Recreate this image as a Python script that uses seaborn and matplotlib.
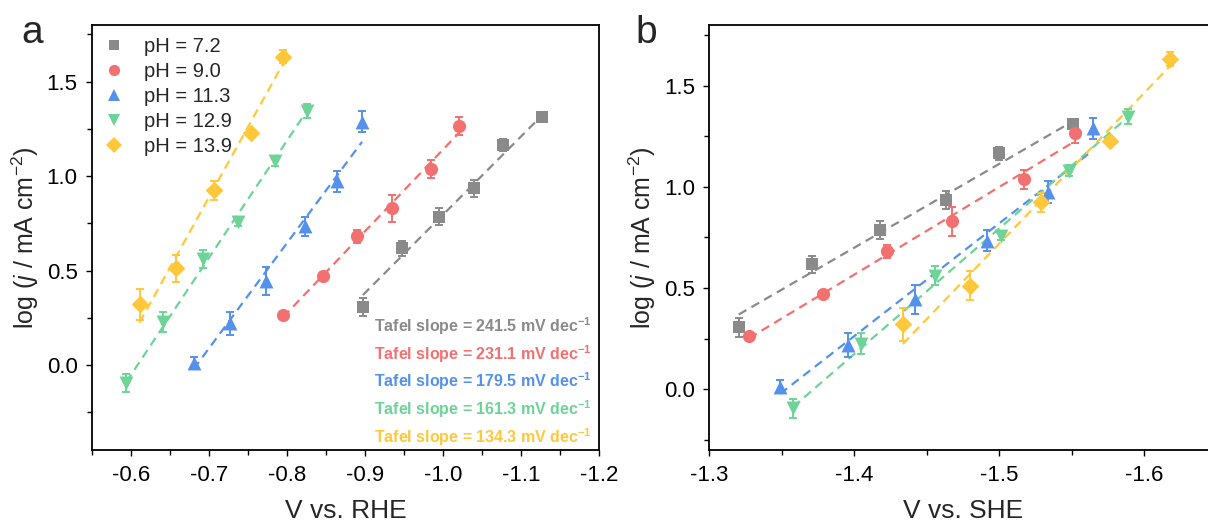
import numpy as np
import pandas as pd
import matplotlib
matplotlib.use("Agg")
import matplotlib.pyplot as plt
from matplotlib.ticker import AutoMinorLocator, FormatStrFormatter, MultipleLocator
from matplotlib.lines import Line2D
import seaborn as sns

# ---- data -------------------------------------------------------------
labels = ["pH = 7.2", "pH = 9.0", "pH = 11.3", "pH = 12.9", "pH = 13.9"]
colors = ["#8A8A8A", "#F2706F", "#5591EC", "#6ED396", "#FFC73A"]
markers = ["s", "o", "^", "v", "D"]
marker_sizes = [8.5, 9.5, 10, 10, 9]
tafel_slopes = [241.5, 231.1, 179.5, 161.3, 134.3]  # mV dec^-1

# potential vs. RHE (V)
v_rhe_72 = [-0.897, -0.947, -0.9945, -1.040, -1.0765, -1.127]
v_rhe_90 = [-0.7945, -0.8453, -0.8897, -0.9346, -0.9837, -1.0196]
v_rhe_113 = [-0.6799, -0.7269, -0.7731, -0.8227, -0.8637, -0.8958]
v_rhe_129 = [-0.5936, -0.641, -0.6923, -0.7368, -0.7846, -0.8253]
v_rhe_139 = [-0.6106, -0.6568, -0.706, -0.7538, -0.7945]

# potential vs. SHE (V)
v_she_72 = [-1.3203, -1.3707, -1.418, -1.4634, -1.5001, -1.5508]
v_she_90 = [-1.3274, -1.3783, -1.4226, -1.4677, -1.517, -1.5524]
v_she_113 = [-1.3488, -1.3957, -1.4422, -1.4917, -1.5337, -1.5646]
v_she_129 = [-1.3578, -1.4047, -1.4558, -1.5011, -1.5484, -1.5888]
v_she_139 = [-1.4335, -1.4799, -1.5289, -1.5767, -1.6179]

# log current density (log mA cm^-2)
logj_72 = [0.306, 0.618, 0.786, 0.935, 1.165, 1.312]
logj_90 = [0.265, 0.470, 0.681, 0.830, 1.037, 1.265]
logj_113 = [0.013, 0.220, 0.445, 0.735, 0.973, 1.289]
logj_129 = [-0.094, 0.226, 0.562, 0.756, 1.081, 1.346]
logj_139 = [0.322, 0.511, 0.924, 1.226, 1.632]

# standard deviation of log j
err_72 = [0.047, 0.041, 0.044, 0.043, 0.030, 0.012]
err_90 = [0.015, 0.012, 0.034, 0.072, 0.048, 0.046]
err_113 = [0.031, 0.059, 0.072, 0.050, 0.055, 0.053]
err_129 = [0.048, 0.053, 0.049, 0.020, 0.027, 0.037]
err_139 = [0.082, 0.072, 0.048, 0.020, 0.034]

v_rhe = [v_rhe_72, v_rhe_90, v_rhe_113, v_rhe_129, v_rhe_139]
v_she = [v_she_72, v_she_90, v_she_113, v_she_129, v_she_139]
logj = [logj_72, logj_90, logj_113, logj_129, logj_139]
errs = [err_72, err_90, err_113, err_129, err_139]


def long_table(potentials):
    rows = []
    for lab, xs, ys, es in zip(labels, potentials, logj, errs):
        for x, y, e in zip(xs, ys, es):
            rows.append({"series": lab, "E": x, "logj": y, "err": e})
    return pd.DataFrame(rows)


def fit_table(potentials):
    # Tafel lines: fixed slope, passing through the centroid of each series
    rows = []
    for lab, xs, ys, b in zip(labels, potentials, logj, tafel_slopes):
        xs = np.asarray(xs)
        ys = np.asarray(ys)
        k = -1000.0 / b
        x0, y0 = xs.mean(), ys.mean()
        for x in (xs.max(), xs.min()):
            rows.append({"series": lab, "E": x, "logj": y0 + k * (x - x0)})
    return pd.DataFrame(rows)


# ---- style ------------------------------------------------------------
sns.set_theme(style="ticks")
plt.rcParams["font.family"] = ["Liberation Sans", "DejaVu Sans"]
plt.rcParams.update({
    "mathtext.fontset": "custom",
    "mathtext.rm": "Liberation Sans",
    "mathtext.it": "Liberation Sans:italic",
    "mathtext.bf": "Liberation Sans:bold",
    "axes.unicode_minus": False,
    "axes.edgecolor": "black",
    "axes.linewidth": 1.3,
    "xtick.color": "black",
    "ytick.color": "black",
    "xtick.direction": "out",
    "ytick.direction": "out",
    "xtick.major.size": 4.5,
    "ytick.major.size": 4.5,
    "xtick.minor.size": 3.5,
    "ytick.minor.size": 3.5,
    "xtick.major.width": 1.0,
    "ytick.major.width": 1.0,
    "xtick.minor.width": 1.0,
    "ytick.minor.width": 1.0,
    "xtick.labelsize": 16,
    "ytick.labelsize": 16,
})

palette = dict(zip(labels, colors))
marker_map = dict(zip(labels, markers))

fig = plt.figure(figsize=(12.08, 5.27), dpi=100)
ax_a = fig.add_axes([0.0764, 0.1461, 0.4197, 0.8065])
ax_b = fig.add_axes([0.5872, 0.1461, 0.4199, 0.8065])


def draw_panel(ax, potentials):
    data = long_table(potentials)
    fits = fit_table(potentials)
    for lab, col in zip(labels, colors):
        sub = fits[fits["series"] == lab]
        sns.lineplot(data=sub, x="E", y="logj", ax=ax, color=col, lw=1.6,
                     linestyle=(0, (4, 2.6)), zorder=2, legend=False,
                     sort=False, estimator=None)
    for lab, col, ms in zip(labels, colors, marker_sizes):
        sub = data[data["series"] == lab]
        ax.errorbar(sub["E"], sub["logj"], yerr=sub["err"], fmt="none",
                    ecolor=col, elinewidth=1.4, capsize=3.2, capthick=1.4,
                    zorder=3)
        sns.scatterplot(data=sub, x="E", y="logj", ax=ax, color=col,
                        marker=marker_map[lab], s=ms ** 2, linewidth=0,
                        zorder=4, legend=False)
    ax.xaxis.set_minor_locator(AutoMinorLocator(2))
    ax.yaxis.set_minor_locator(AutoMinorLocator(2))
    ax.yaxis.set_major_locator(MultipleLocator(0.5))
    ax.xaxis.set_major_locator(MultipleLocator(0.1))
    ax.xaxis.set_major_formatter(FormatStrFormatter("%.1f"))
    ax.yaxis.set_major_formatter(FormatStrFormatter("%.1f"))
    ax.tick_params(which="both", top=False, right=False, pad=6)
    ax.set_ylabel(r"log ($\mathit{j}$ / mA cm$^{-2}$)", fontsize=18, labelpad=4)
    for s in ax.spines.values():
        s.set_visible(True)


# ---- panel a: vs. RHE ---------------------------------------------------
draw_panel(ax_a, v_rhe)
ax_a.set_xlim(-0.55, -1.2)
ax_a.set_ylim(-0.45, 1.8)
ax_a.set_xlabel("V vs. RHE", fontsize=19, labelpad=10)

handles = [Line2D([], [], linestyle="none", marker=m, markersize=ms * 0.85,
                  color=c, markeredgewidth=0)
           for m, ms, c in zip(markers, marker_sizes, colors)]
ax_a.legend(handles, labels, loc="upper left", bbox_to_anchor=(0.022, 0.972),
            frameon=False, fontsize=14.5, handlelength=1.0, handletextpad=1.0,
            labelspacing=0.3, borderpad=0, borderaxespad=0)

for i, (b, c) in enumerate(zip(tafel_slopes, colors)):
    ax_a.text(0.985, 0.292 - 0.0655 * i,
              r"Tafel slope = %.1f mV dec$^{\mathbf{-1}}$" % b,
              transform=ax_a.transAxes, ha="right", va="center",
              fontsize=11.5, fontweight="bold", color=c)

# ---- panel b: vs. SHE ---------------------------------------------------
draw_panel(ax_b, v_she)
ax_b.set_xlim(-1.3, -1.65)
ax_b.set_ylim(-0.3, 1.8)
ax_b.set_xlabel("V vs. SHE", fontsize=19, labelpad=10)

fig.text(0.018, 1 - 43 / 527, "a", fontsize=28, va="baseline", ha="left")
fig.text(0.526, 1 - 43 / 527, "b", fontsize=28, va="baseline", ha="left")

fig.savefig("out.png", dpi=100)
